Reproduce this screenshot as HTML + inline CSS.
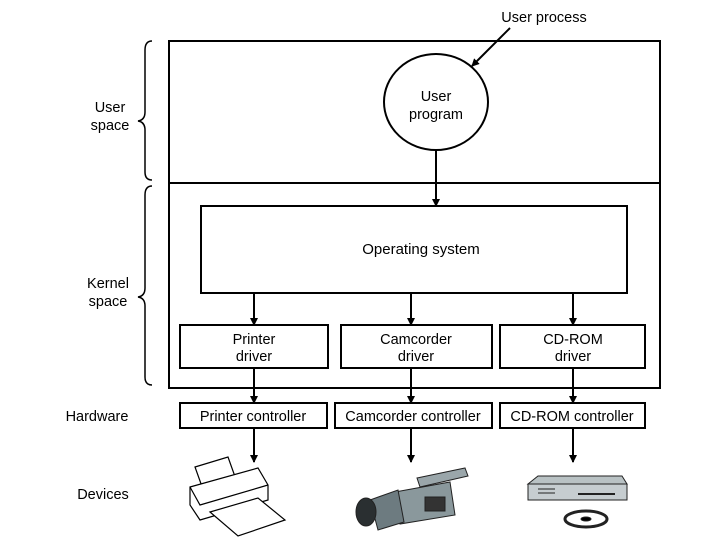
<!DOCTYPE html>
<html><head><style>body{margin:0;background:#fff}svg{display:block}</style></head><body>
<svg width="720" height="540" viewBox="0 0 720 540" font-family="Liberation Sans, sans-serif" fill="none" stroke="#000">
<defs><marker id="a" markerWidth="8" markerHeight="8" refX="7" refY="4" orient="auto" markerUnits="userSpaceOnUse"><path d="M0,0 L8,4 L0,8 z" fill="#000" stroke="none"/></marker></defs>
<g stroke-width="2">
<rect x="169" y="41" width="491" height="347"/>
<line x1="169" y1="183" x2="660" y2="183"/>
<rect x="201" y="206" width="426" height="87"/>
<rect x="180" y="325" width="148" height="43"/>
<rect x="341" y="325" width="151" height="43"/>
<rect x="500" y="325" width="145" height="43"/>
<rect x="180" y="403" width="147" height="25"/>
<rect x="335" y="403" width="157" height="25"/>
<rect x="500" y="403" width="145" height="25"/>
<ellipse cx="436" cy="102" rx="52" ry="48"/>
<line x1="510" y1="28" x2="472" y2="66" marker-end="url(#a)"/>
<line x1="436" y1="150" x2="436" y2="206" marker-end="url(#a)"/>
<line x1="254" y1="293" x2="254" y2="325" marker-end="url(#a)"/>
<line x1="411" y1="293" x2="411" y2="325" marker-end="url(#a)"/>
<line x1="573" y1="293" x2="573" y2="325" marker-end="url(#a)"/>
<line x1="254" y1="368" x2="254" y2="403" marker-end="url(#a)"/>
<line x1="411" y1="368" x2="411" y2="403" marker-end="url(#a)"/>
<line x1="573" y1="368" x2="573" y2="403" marker-end="url(#a)"/>
<line x1="254" y1="428" x2="254" y2="462" marker-end="url(#a)"/>
<line x1="411" y1="428" x2="411" y2="462" marker-end="url(#a)"/>
<line x1="573" y1="428" x2="573" y2="462" marker-end="url(#a)"/>
</g>
<g stroke-width="1.5">
<path d="M152,41 Q145,41 145,50 L145,112 Q145,120 138,121 Q145,122 145,130 L145,172 Q145,180 152,180"/>
<path d="M152,186 Q145,186 145,195 L145,288 Q145,296 138,297 Q145,298 145,306 L145,377 Q145,385 152,385"/>
</g>
<g fill="#000" stroke="none" font-size="14.5" text-anchor="middle">
<text x="544" y="22">User process</text>
<text x="436" y="101">User</text><text x="436" y="119">program</text>
<text x="110" y="112">User</text><text x="110" y="130">space</text>
<text x="108" y="288">Kernel</text><text x="108" y="306">space</text>
<text x="254" y="344">Printer</text><text x="254" y="361">driver</text>
<text x="416" y="344">Camcorder</text><text x="416" y="361">driver</text>
<text x="573" y="344">CD-ROM</text><text x="573" y="361">driver</text>
<text x="253" y="421">Printer controller</text>
<text x="413" y="421">Camcorder controller</text>
<text x="572" y="421">CD-ROM controller</text>
<text x="97" y="421">Hardware</text>
<text x="103" y="499">Devices</text>
<text x="421" y="254" font-size="15">Operating system</text>
</g>
<!-- printer -->
<g stroke-width="1.2">
<path d="M195,467 L228,457 L238,485 L205,495 z" fill="#fff"/>
<path d="M190,487 L258,468 L268,485 L268,500 L200,520 L190,505 z" fill="#fff"/>
<path d="M190,487 L200,505 L268,485"/>
<path d="M210,512 L258,498 L285,520 L238,536 z" fill="#fff"/>
</g>
<!-- camcorder -->
<g stroke="#222" stroke-width="1">
<path d="M417,478 L465,468 L468,476 L420,487 z" fill="#9aa6aa"/>
<path d="M395,492 L450,482 L455,515 L400,524 z" fill="#8a989c"/>
<path d="M370,500 L398,490 L404,522 L378,530 z" fill="#6d7b80"/>
<ellipse cx="366" cy="512" rx="10" ry="14" fill="#2a2f31"/>
<rect x="425" y="497" width="20" height="14" fill="#333"/>
</g>
<!-- cd-rom -->
<g stroke="#222" stroke-width="1">
<path d="M528,484 L538,476 L622,476 L627,484 z" fill="#b9c2c4"/>
<rect x="528" y="484" width="99" height="16" fill="#c6cdd0"/>
<line x1="538" y1="489" x2="555" y2="489"/><line x1="538" y1="493" x2="555" y2="493"/>
<line x1="578" y1="494" x2="615" y2="494" stroke-width="2"/>
<ellipse cx="586" cy="519" rx="21" ry="8" fill="#fff" stroke-width="3"/>
<ellipse cx="586" cy="519" rx="5" ry="2" fill="#000"/>
</g>
</svg>
</body></html>
